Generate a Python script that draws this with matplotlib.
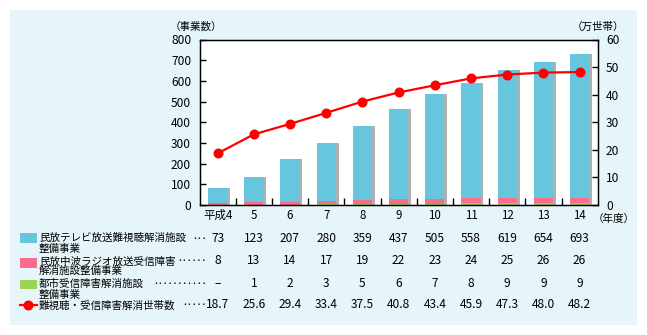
import numpy as np
import matplotlib
matplotlib.use('Agg')
import matplotlib.pyplot as plt
from matplotlib.patches import Rectangle
from matplotlib.lines import Line2D
from matplotlib.transforms import blended_transform_factory

plt.rcParams['font.family'] = ['Noto Sans CJK JP', 'DejaVu Sans']
plt.rcParams['font.size'] = 7.6

# data
years = ['平成4', '5', '6', '7', '8', '9', '10', '11', '12', '13', '14']
tv = [73, 123, 207, 280, 359, 437, 505, 558, 619, 654, 693]
radio = [8, 13, 14, 17, 19, 22, 23, 24, 25, 26, 26]
city = [0, 1, 2, 3, 5, 6, 7, 8, 9, 9, 9]
households = [18.7, 25.6, 29.4, 33.4, 37.5, 40.8, 43.4, 45.9, 47.3, 48.0, 48.2]

row_labels = [('民放テレビ放送難視聴解消施設', '整備事業'),
              ('民放中波ラジオ放送受信障害', '解消施設整備事業'),
              ('都市受信障害解消施設', '整備事業'),
              ('難視聴・受信障害解消世帯数', None)]

c_tv = '#66C6DD'
c_radio = '#FA6C8E'
c_city = '#99D455'
c_shadow = '#B0B0B0'
c_line = '#FF0000'
c_bg = '#E6F5F9'
num_size = 8.6

W, H = 647, 335


def px(x, y):
    return x / W, 1 - y / H


fig = plt.figure(figsize=(W / 100, H / 100), dpi=100)
fig.patch.set_facecolor('white')

# light panel behind everything
x0, y0 = px(10, 325)
x1, y1 = px(637, 10)
fig.patches.append(Rectangle((x0, y0), x1 - x0, y1 - y0, transform=fig.transFigure,
                             facecolor=c_bg, edgecolor='none', zorder=-10))

left, bottom = px(199.5, 205)
right, top = px(597.7, 39.5)
ax = fig.add_axes([left, bottom, right - left, top - bottom])
ax.set_facecolor('white')

x = np.arange(len(years)) + 0.5
w = 0.53
tv_a = np.array(tv)
radio_a = np.array(radio)
city_a = np.array(city)
total = tv_a + radio_a + city_a

# shadow, then stacked bars
ax.bar(x + 0.075, total, w, color=c_shadow, zorder=1)
ax.bar(x, city_a, w, color=c_city, zorder=2)
ax.bar(x, radio_a, w, bottom=city_a, color=c_radio, zorder=2)
ax.bar(x, tv_a, w, bottom=city_a + radio_a, color=c_tv, zorder=2)

ax.set_xlim(0, len(years))
ax.set_ylim(0, 800)
ax.set_yticks(np.arange(0, 801, 100))
ax.set_xticks(x)
ax.set_xticklabels(years)
ax.set_xticks(np.arange(1, len(years)), minor=True)
ax.tick_params(axis='x', which='major', length=0, pad=3, labelsize=8.3)
ax.tick_params(axis='x', which='minor', direction='in', length=5, width=1)
ax.tick_params(axis='y', direction='in', length=4, width=1, pad=6, labelsize=num_size)
for s in ax.spines.values():
    s.set_linewidth(1)

ax2 = ax.twinx()
ax2.plot(x, households, color=c_line, lw=1.6, marker='o', markersize=6.2, zorder=5)
ax2.set_ylim(0, 60)
ax2.set_yticks(np.arange(0, 61, 10))
ax2.tick_params(axis='y', direction='in', length=4, width=1, pad=6, labelsize=num_size)

fig.text(*px(196, 27), '（事業数）', ha='center', va='center')
fig.text(*px(598, 27), '（万世帯）', ha='center', va='center')
fig.text(*px(614, 219), '（年度）', ha='center', va='center')

# table under the chart
tr = blended_transform_factory(ax.transData, fig.transFigure)
row_y = [239, 261, 283.5, 305]
line1_y = [238, 261.5, 284, 305.5]
line2_y = [248.5, 271, 295, None]
dots_x = [194, 180, 156, 185]

for i, (l1, l2) in enumerate(row_labels):
    fig.text(*px(39, line1_y[i]), l1, ha='left', va='center')
    if l2:
        fig.text(*px(39, line2_y[i]), l2, ha='left', va='center')
    n = int(round((207 - dots_x[i]) / 4.6))
    fig.text(*px(207, row_y[i]), '･' * n, ha='right', va='center', size=7)

fig.patches.append(Rectangle(px(20, 243.3), 16.7 / W, 10 / H, transform=fig.transFigure,
                             facecolor=c_tv, edgecolor='none'))
fig.patches.append(Rectangle(px(20, 267.7), 16.7 / W, 9.4 / H, transform=fig.transFigure,
                             facecolor=c_radio, edgecolor='none'))
fig.patches.append(Rectangle(px(20, 289), 16.7 / W, 9 / H, transform=fig.transFigure,
                             facecolor=c_city, edgecolor='none'))
lx0, ly = px(20, 305)
lx1, _ = px(36.7, 305)
fig.lines.append(Line2D([lx0, lx1], [ly, ly], transform=fig.transFigure, color=c_line, lw=1.6))
fig.lines.append(Line2D([(lx0 + lx1) / 2], [ly], transform=fig.transFigure, color=c_line,
                        marker='o', markersize=6.2))

rows = [[str(v) for v in tv],
        [str(v) for v in radio],
        ['–' if v == 0 else str(v) for v in city],
        [f'{v:.1f}' for v in households]]
for i, vals in enumerate(rows):
    yy = 1 - row_y[i] / H
    for xi, v in zip(x, vals):
        ax.text(xi, yy, v, transform=tr, ha='center', va='center', size=num_size)

fig.savefig('out.png', dpi=100)
